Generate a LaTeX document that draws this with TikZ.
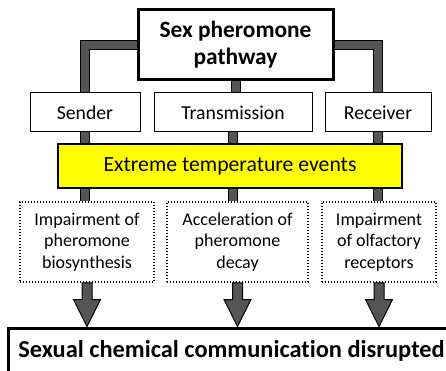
\documentclass[tikz,border=0pt]{standalone}
\usepackage{fontspec}
\setmainfont{Carlito}[Ligatures=NoCommon]
\usepackage{tikz}
\usetikzlibrary{calc,backgrounds}
\definecolor{pipegray}{HTML}{555555}
\definecolor{eventyellow}{HTML}{FFFF00}

\tikzset{
  box/.style={draw,rectangle,inner sep=0pt,align=center,fill=white,line width=1pt},
  bigbox/.style={box,line width=3pt,font=\fontsize{23.4}{27}\selectfont\bfseries},
  smallbox/.style={box,font=\fontsize{19.7}{24}\selectfont},
  effectbox/.style={box,dotted,line width=1.5pt,font=\fontsize{18}{21.5}\selectfont},
  pipe/.style={line width=10pt,draw=black,postaction={draw=pipegray,line width=8pt}},
  blockarrow/.style={draw=black,fill=pipegray,line width=1pt}
}

% down arrow from one box to another
\newcommand{\downarrowblock}[2]{%
  \draw[blockarrow] let \p1=(#1.south), \p2=(#2.north) in
    (\x1-5pt,\y1) -- (\x1-5pt,\y2+27pt) -- (\x1-13.5pt,\y2+27pt) -- (\x1,\y2)
    -- (\x1+13.5pt,\y2+27pt) -- (\x1+5pt,\y2+27pt) -- (\x1+5pt,\y1) -- cycle;
}

\begin{document}
\begin{tikzpicture}[x=1pt,y=-1pt]
    \clip (0,0) rectangle (446,371);

    % pathway
    \node[bigbox,minimum width=195pt,minimum height=70pt] (top) at (235.5,45) {Sex pheromone\\pathway};
    \node[smallbox,minimum width=110pt,minimum height=39pt] (sender) at (85,112.5) {Sender};
    \node[smallbox,minimum width=158pt,minimum height=39pt] (trans) at (233,112.5) {Transmission};
    \node[smallbox,minimum width=106pt,minimum height=39pt] (recv) at (378,112.5) {Receiver};

    % stress
    \node[box,fill=eventyellow,line width=1.5pt,minimum width=344pt,minimum height=44pt,
          font=\fontsize{21.7}{24}\selectfont] (event) at (230,166) {Extreme temperature events};

    % effects
    \node[effectbox,minimum width=134pt,minimum height=80pt] (eff1) at (87,242) {Impairment of\\pheromone\\biosynthesis};
    \node[effectbox,minimum width=141pt,minimum height=80pt] (eff2) at (237.5,242) {Acceleration of\\pheromone\\decay};
    \node[effectbox,minimum width=114pt,minimum height=80pt] (eff3) at (379,242) {Impairment\\of olfactory\\receptors};

    % outcome
    \node[bigbox,minimum width=447pt,minimum height=46pt,font=\fontsize{24.4}{28}\selectfont\bfseries] (bot) at (231.5,351)
        {Sexual chemical communication disrupted};

    \begin{scope}[on background layer]
    \draw[pipe] (top.west) -| (sender.north);
    \draw[pipe] (top.east) -| (recv.north);
    \draw[pipe] (top.south) -- (top.south |- trans.north);
    \draw[pipe] (sender.south) -- (sender.south |- event.north);
    \draw[pipe] (trans.south) -- (trans.south |- event.north);
    \draw[pipe] (recv.south) -- (recv.south |- event.north);
    \draw[pipe] (sender.south |- event.south) -- (sender.south |- eff1.north);
    \draw[pipe] (trans.south |- event.south) -- (trans.south |- eff2.north);
    \draw[pipe] (recv.south |- event.south) -- (recv.south |- eff3.north);
    \end{scope}

    \downarrowblock{eff1}{bot}
    \downarrowblock{eff2}{bot}
    \downarrowblock{eff3}{bot}
\end{tikzpicture}
\end{document}
